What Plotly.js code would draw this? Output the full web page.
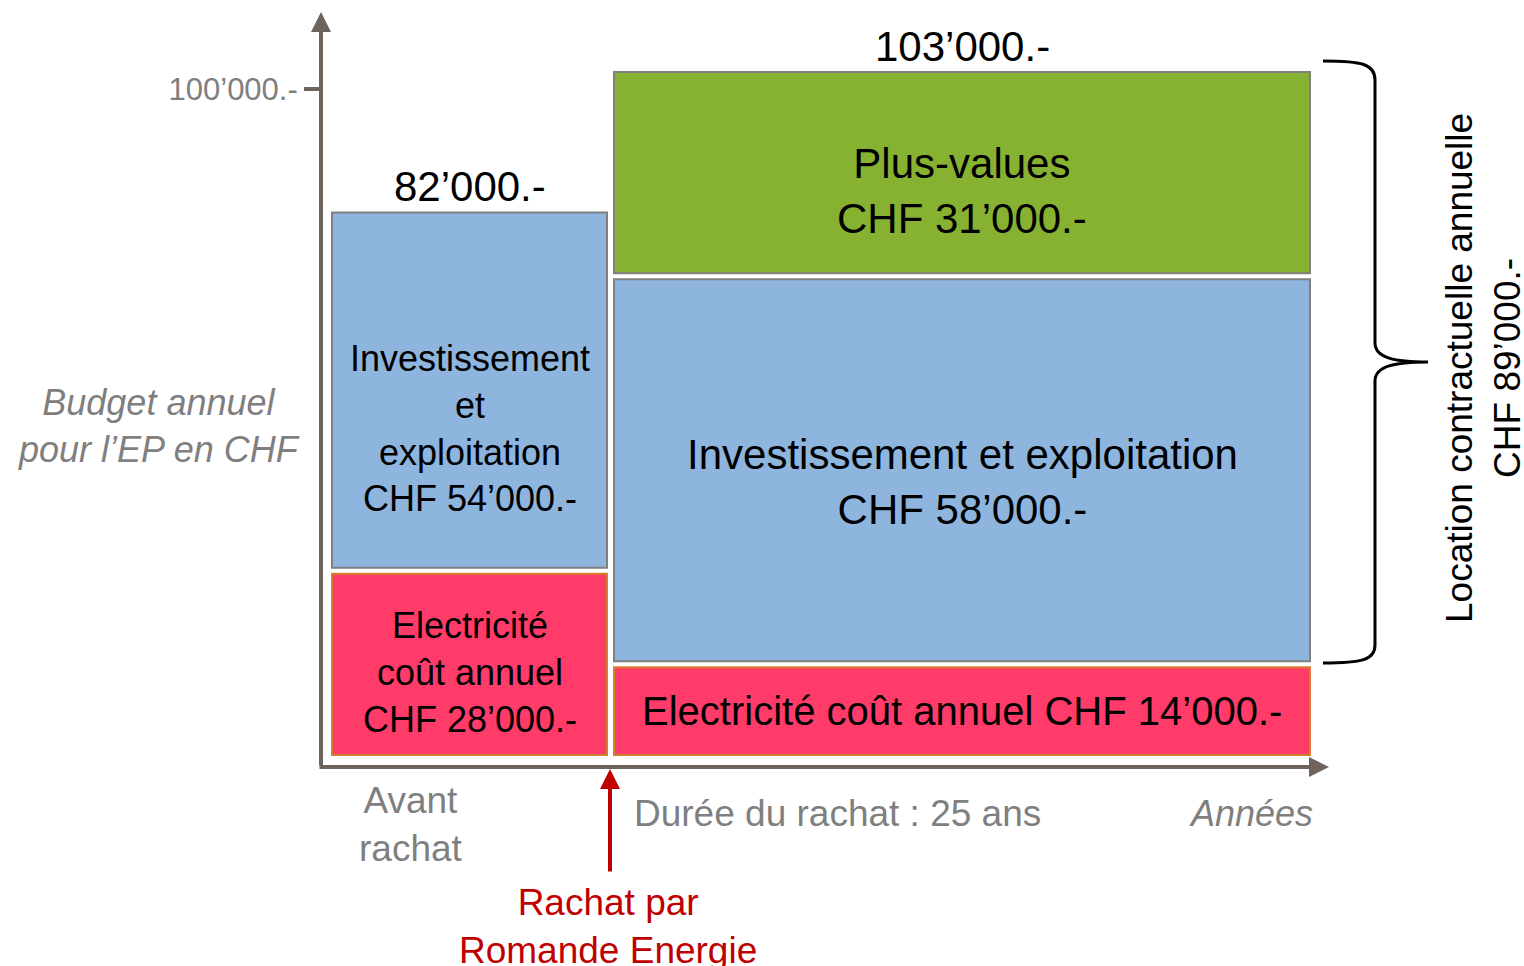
<!DOCTYPE html>
<html>
<head>
<meta charset="utf-8">
<script src="https://cdn.plot.ly/plotly-3.0.1.min.js"></script>
<style>html,body{margin:0;padding:0;background:#fff;}#chart{width:1524px;height:966px;}</style>
</head>
<body>
<div id="chart"></div>
<script>
// ---------- data ----------
const periods = ["Avant<br>rachat", "Durée du rachat : 25 ans"];
const electricite = [28000, 14000];
const investissement = [54000, 58000];
const plusValues = [0, 31000];
const electriciteLabels = ["Electricité<br>coût annuel<br>CHF 28’000.-", "Electricité coût annuel CHF 14’000.-"];
const investissementLabels = ["Investissement<br>et<br>exploitation<br>CHF 54’000.-", "Investissement et exploitation<br>CHF 58’000.-"];
const plusValuesLabels = ["", "Plus-values<br>CHF 31’000.-"];
const yTickVals = [100000];
const yTickText = ["100’000.-"];
const locationLabel = "Location contractuelle annuelle<br>CHF 89’000.-";

// ---------- layout constants (pixels) ----------
const W = 1524, H = 966;
const L = 321, R = 1325, T = 12, B = 766;
const PW = R - L, PH = B - T;
const barCenters = [148.5, 641];   // x in plot-pixel units
const barWidths = [275, 696];
const gap = 450;                   // visual gap between stacked blocks (CHF units)
const axisColor = "#6e645d";
const grey = "#7f7f7f";
const FONT = "Liberation Sans, Arial, sans-serif";

const px = x => (x - L) / PW;
const py = y => (B - y) / PH;

function fmt(v) {
  return String(v).replace(/\B(?=(\d{3})+(?!\d))/g, "’") + ".-";
}

const series = [
  {vals: electricite, labels: electriciteLabels, color: "#ff3b69", line: "#d4812f", sizes: [36, 40], shifts: [-8, 0], name: "Electricité"},
  {vals: investissement, labels: investissementLabels, color: "#8db5de", line: "#808080", sizes: [36, 42], shifts: [-38, -12], name: "Investissement et exploitation"},
  {vals: plusValues, labels: plusValuesLabels, color: "#87b130", line: "#808080", sizes: [36, 42], shifts: [0, -18], name: "Plus-values"}
];

const annotations = [];
const cum = [0, 0];
const traces = series.map(s => {
  const base = [], y = [];
  s.vals.forEach((v, i) => {
    if (v > 0) {
      base.push(cum[i] + gap); y.push(v - 2 * gap);
      annotations.push({x: barCenters[i], y: cum[i] + v / 2, xref: "x", yref: "y",
        xanchor: "center", yanchor: "middle", yshift: s.shifts[i], align: "center",
        text: s.labels[i], showarrow: false, font: {family: FONT, size: s.sizes[i], color: "#000"}});
    } else { base.push(null); y.push(null); }
    cum[i] += v;
  });
  return {
    type: "bar", name: s.name, x: barCenters, y: y, base: base, width: barWidths,
    marker: {color: s.color, line: {color: s.line, width: 2}},
    hoverinfo: "skip", showlegend: false
  };
});

const totals = cum.slice();

// totals above bars
totals.forEach((t, i) => {
  annotations.push({x: barCenters[i], y: t, xref: "x", yref: "y", xanchor: "center", yanchor: "bottom", yshift: -3,
    text: fmt(t), showarrow: false, font: {family: FONT, size: 42, color: "#000"}});
});
// axes arrows
annotations.push({x: px(321), y: py(12), xref: "paper", yref: "paper", text: "", showarrow: true,
  ax: 0, ay: 755, arrowhead: 2, arrowsize: 1, arrowwidth: 4, arrowcolor: axisColor, standoff: 0});
annotations.push({x: px(1329), y: py(767), xref: "paper", yref: "paper", text: "", showarrow: true,
  ax: -1011, ay: 0, arrowhead: 2, arrowsize: 1, arrowwidth: 4, arrowcolor: axisColor, standoff: 0});
// red arrow
annotations.push({x: px(610), y: py(769), xref: "paper", yref: "paper", text: "", showarrow: true,
  ax: 0, ay: 104, arrowhead: 2, arrowsize: 1, arrowwidth: 4, arrowcolor: "#c00000", standoff: 0});
// text labels
function label(x, y, text, size, color, xanchor, extra) {
  return Object.assign({x: px(x), y: py(y), xref: "paper", yref: "paper", xanchor: xanchor || "center",
    yanchor: "middle", text: text, showarrow: false, align: "center",
    font: {family: FONT, size: size, color: color}}, extra || {});
}
annotations.push(label(159, 426, "<i>Budget annuel<br>pour l’EP en CHF</i>", 36, grey));
annotations.push(label(411, 824, periods[0], 37, grey));
annotations.push(label(632, 813, periods[1], 37, grey, "left"));
annotations.push(label(1315, 813, "<i>Années</i>", 36, grey, "right"));
annotations.push(label(608, 926, "Rachat par<br>Romande Energie", 37, "#c00000"));
annotations.push(label(1483, 368, locationLabel, 37, "#000", "center", {textangle: -90}));

// curly brace
function bracePath(cmds) {
  return cmds.map(c => {
    const [k, ...pts] = c;
    const out = [];
    for (let i = 0; i < pts.length; i += 2) out.push(px(pts[i]).toFixed(5) + "," + py(pts[i + 1]).toFixed(5));
    return k + " " + out.join(" ");
  }).join(" ");
}
const brace = bracePath([
  ["M", 1323, 61], ["C", 1362, 61, 1375, 64, 1375, 80], ["L", 1375, 343],
  ["C", 1375, 358, 1395, 362, 1428, 362], ["C", 1395, 362, 1375, 366, 1375, 381],
  ["L", 1375, 645], ["C", 1375, 660, 1362, 663, 1323, 663]
]);

const layout = {
  width: W, height: H, autosize: false,
  margin: {l: L, r: W - R, t: T, b: H - B, pad: 0},
  paper_bgcolor: "#fff", plot_bgcolor: "rgba(0,0,0,0)",
  barmode: "overlay", showlegend: false,
  xaxis: {range: [0, PW], visible: false, fixedrange: true},
  yaxis: {range: [-1200, 111500], showgrid: false, zeroline: false, showline: false,
    tickvals: yTickVals, ticktext: yTickText, ticks: "outside", ticklen: 16, tickwidth: 4,
    tickcolor: axisColor, tickfont: {family: FONT, size: 31, color: grey}, fixedrange: true},
  shapes: [{type: "path", xref: "paper", yref: "paper", path: brace, line: {color: "#000", width: 3}}],
  annotations: annotations
};

Plotly.newPlot("chart", traces, layout, {displayModeBar: false, staticPlot: true});
</script>
</body>
</html>
